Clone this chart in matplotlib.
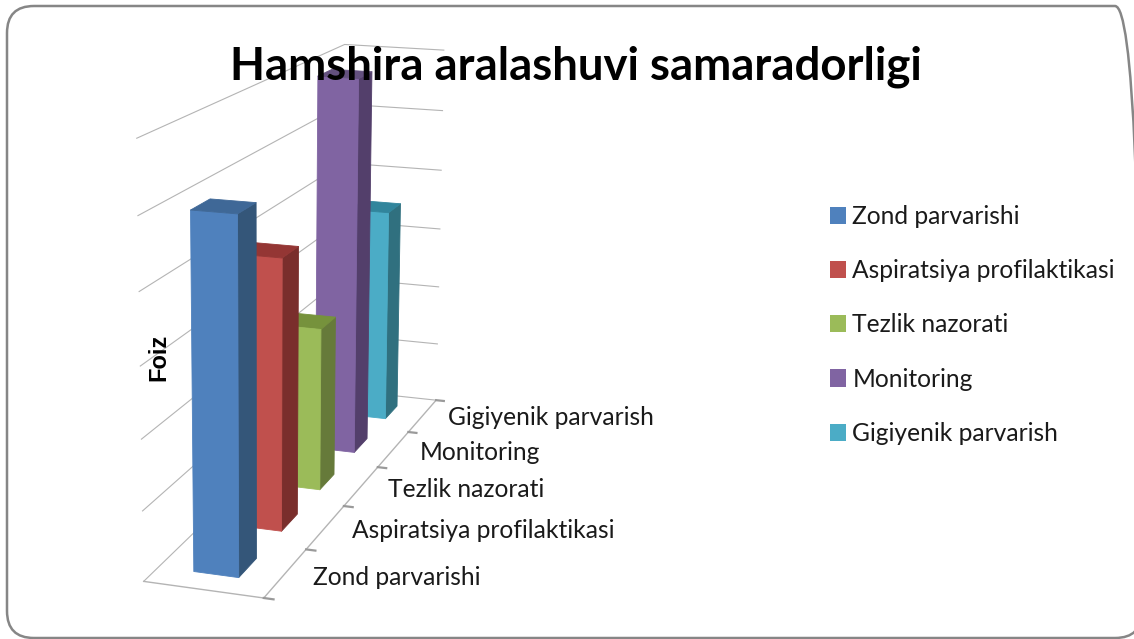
import numpy as np
import matplotlib
matplotlib.use("Agg")
import matplotlib.pyplot as plt
from matplotlib.patches import FancyBboxPatch, Patch
from matplotlib.transforms import IdentityTransform

categories = ["Zond parvarishi", "Aspiratsiya profilaktikasi", "Tezlik nazorati", "Monitoring", "Gigiyenik parvarish"]
values = [5.0, 4.0, 2.5, 5.95, 3.5]
gridlevels = [0, 1, 2, 3, 4, 5, 6]
title_text = "Hamshira aralashuvi samaradorligi"
ylabel_text = "Foiz"

front_colors = ["#4F81BD", "#C0504D", "#9BBB59", "#8064A2", "#4BACC6"]
side_colors = ["#345679", "#7A2E2C", "#667A3A", "#533F6B", "#30707F"]
top_colors = ["#3F6897", "#943634", "#76923C", "#63507E", "#31859C"]

W, H = 1134, 639
GRID = "#b4b4b4"

# camera: pixel positions of known corners of the chart box -> 3D projective map
world = [(0,0,0),(1,0,0),(1,5,0),(0,5,0),(0,0,6),(0,5,6),(1,5,6),
         (1,1,0),(1,2,0),(1,3,0),(1,4,0)]
pix = [(143,580),(263,598),(435,399),(340,391),(136,139),(347,44),(442,50),
       (305,550),(347,506),(380,467),(408,433)]
A, b = [], []
for (X,Y,Z),(u,v) in zip(world,pix):
    A.append([X,Y,Z,1,0,0,0,0,-u*X,-u*Y,-u*Z]); b.append(u)
    A.append([0,0,0,0,X,Y,Z,1,-v*X,-v*Y,-v*Z]); b.append(v)
p = np.linalg.lstsq(np.array(A,float),np.array(b,float),rcond=None)[0]
M = np.array([[p[0],p[1],p[2],p[3]],
              [p[4],p[5],p[6],p[7]],
              [0,0,0,-1.0],
              [p[8],p[9],p[10],1.0]])

fig = plt.figure(figsize=(W/100,H/100),dpi=100,facecolor="white")
ax = fig.add_axes([0,0,1,1],projection="3d")
ax.set_proj_type("ortho")
ax.set_axis_off()
ax.patch.set_alpha(0)

# bars
n = len(values)
xs = np.full(n,0.3); ys = np.arange(n)+0.3
clear = (0,0,0,0)
cols = []
for i in range(n):
    cols += [clear, top_colors[i], front_colors[i], clear, clear, side_colors[i]]
ax.bar3d(xs,ys,np.zeros(n),np.full(n,0.38),np.full(n,0.4),values,color=cols,shade=False,
         edgecolor=cols,linewidth=0.6)

# walls and floor
for z in gridlevels:
    ax.plot([0,0,1],[0,n,n],[z,z,z],color=GRID,lw=0.8)
ax.plot([0,1,1],[0,0,n],[0,0,0],color=GRID,lw=1.0)
for k in range(n+1):
    ax.plot([1,1.08],[k,k],[0,0],color="#9a9a9a",lw=1.6)

ax.get_proj = lambda: M
ax.apply_aspect = lambda position=None: None
ax.viewLim.intervalx = (0,W)
ax.viewLim.intervaly = (H,0)

def fx(x): return x/W
def fy(y): return 1-y/H

rend = fig.canvas.get_renderer()
def fit_size(s,width,**kw):
    t = fig.text(0,0,s,fontsize=20,**kw)
    w = t.get_window_extent(rend).width
    t.remove()
    return 20*width/w

FONT = "Lato"
lab_fs = fit_size(categories[1],263,family=FONT)
tit_fs = fit_size(title_text,690,family=FONT,fontweight="bold")

fig.text(fx(230),fy(80),title_text,family=FONT,fontweight="bold",fontsize=tit_fs,color="black",va="baseline",ha="left")
fig.text(fx(159),fy(357),ylabel_text,family="Liberation Sans",fontweight="bold",fontsize=17,rotation=90,va="center",ha="center")

label_x = [313,352,388,420,448]
label_base = [585,538,497,460,425]
for s,x,y in zip(categories,label_x,label_base):
    fig.text(fx(x),fy(y),s,family=FONT,fontsize=lab_fs,color="#1a1a1a",va="baseline",ha="left")

handles = [Patch(facecolor=c,edgecolor="none",label=s) for c,s in zip(front_colors,categories)]
leg = fig.legend(handles=handles,loc="upper left",bbox_to_anchor=(fx(830),fy(205)),
                 frameon=False,prop={"family":FONT,"size":lab_fs},handlelength=0.66,handleheight=0.7,
                 handletextpad=0.25,labelspacing=1.27,borderpad=0,borderaxespad=0,labelcolor="#1a1a1a")

frame = FancyBboxPatch((7,1),1135,632,boxstyle="round,pad=0,rounding_size=27",
                       transform=IdentityTransform(),fill=False,edgecolor="#868686",lw=1.8)
fig.add_artist(frame)
fig.savefig("out.png",dpi=100)
